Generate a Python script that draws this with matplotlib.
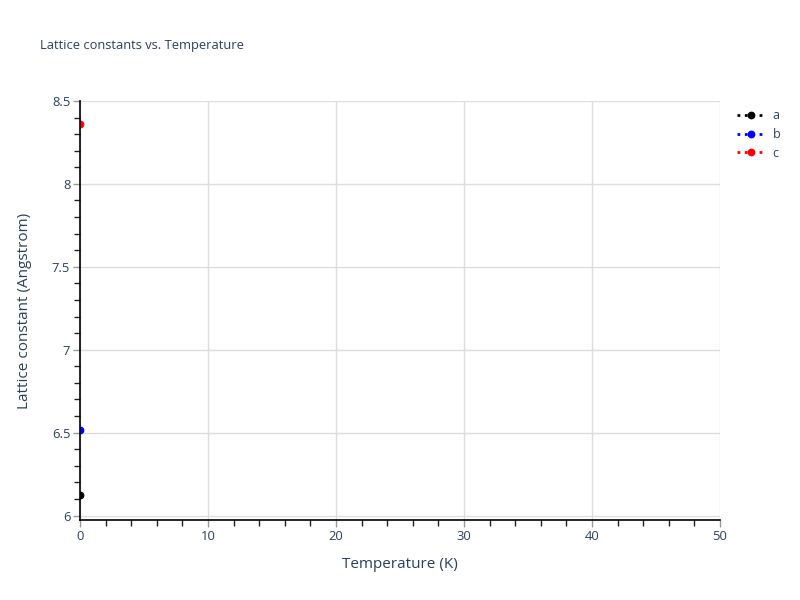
import matplotlib
matplotlib.use("Agg")
import matplotlib.pyplot as plt
from matplotlib.ticker import MultipleLocator, FuncFormatter
from matplotlib.lines import Line2D

temperature = [0]
lat_a = [6.124]
lat_b = [6.517]
lat_c = [8.359]
series_names = ["a", "b", "c"]
series_colors = ["black", "blue", "red"]

plt.rcParams['font.family'] = ['Open Sans', 'DejaVu Sans']
txt = '#2a3f5f'
ptsz = 0.72  # px -> pt at 100 dpi

fig = plt.figure(figsize=(8, 6), dpi=100)
ax = fig.add_axes([0.1, 80/600, 0.8, (520-101)/600])

for vals, name, col in zip([lat_a, lat_b, lat_c], series_names, series_colors):
    ax.plot(temperature, vals, linestyle=':', color=col, marker='o', markersize=4.6,
            linewidth=2, label=name, clip_on=True, zorder=3)

ax.set_xlim(0, 50)
ax.set_ylim(5.973, 8.5)
ax.xaxis.set_major_locator(MultipleLocator(10))
ax.xaxis.set_minor_locator(MultipleLocator(2))
ax.yaxis.set_major_locator(MultipleLocator(0.5))
ax.yaxis.set_minor_locator(MultipleLocator(0.1))
ax.yaxis.set_major_formatter(FuncFormatter(lambda v, p: f"{v:g}"))

ax.grid(True, which='major', color='#dddddd', linewidth=1, zorder=0)
ax.set_axisbelow(True)
for s in ['top', 'right']:
    ax.spines[s].set_visible(False)
for s in ['left', 'bottom']:
    ax.spines[s].set_color('black')
    ax.spines[s].set_linewidth(1.2)
    ax.spines[s].set_zorder(4)

ax.tick_params(which='major', length=5, width=1, color='#999999', labelcolor=txt,
               labelsize=13*ptsz, pad=2)
ax.tick_params(which='minor', length=4.5, width=1, color='#222222')

ax.set_xlabel("Temperature (K)", fontsize=15.3*ptsz, color=txt, labelpad=10.5)
ax.set_ylabel("Lattice constant (Angstrom)", fontsize=15.3*ptsz, color=txt, labelpad=14)
fig.text(40/800, 1-46/600, "Lattice constants vs. Temperature", fontsize=12.9*ptsz,
         color=txt, ha='left', va='center')

handles = [Line2D([0], [0], linestyle=':', color=c, marker='o', markersize=4.6, linewidth=2)
           for c in series_colors]
leg = fig.legend(handles, series_names, loc='upper left', bbox_to_anchor=(737/800, 1-109/600),
                 frameon=False, fontsize=12.5*ptsz, labelcolor=txt, handlelength=2.25,
                 handletextpad=0.6, labelspacing=0.47, borderaxespad=0, borderpad=0)

fig.savefig("out.png", dpi=100)
